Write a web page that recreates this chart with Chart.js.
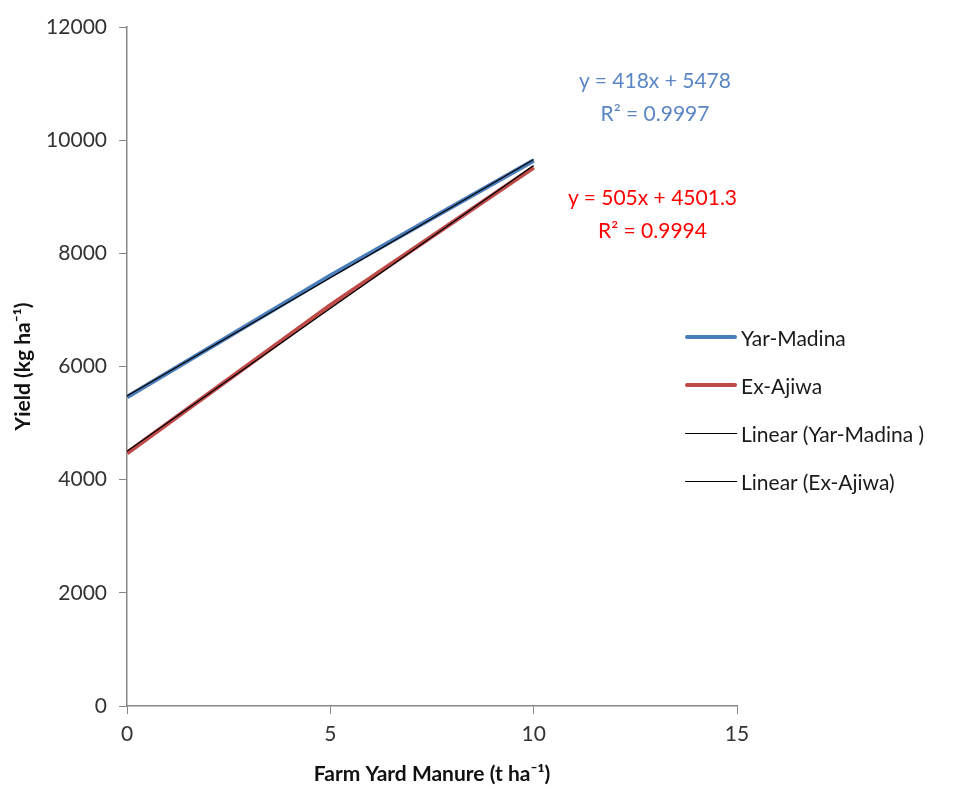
<!DOCTYPE html>
<html lang="en">
<head>
    <meta charset="UTF-8">
    <title>Yield vs Farm Yard Manure</title>
    <style>
        body { margin: 0; background: #fff; font-family: Lato, "Open Sans", sans-serif; }
        .wrap { position: relative; width: 963px; height: 791px; }
        canvas { position: absolute; left: 0; top: 0; }
        .eq { position: absolute; font-size: 21px; text-align: center; line-height: 33px; white-space: nowrap; }
        .legend { position: absolute; left: 685px; top: 313px; font-size: 21px; color: #1a1a1a; }
        .legend div { height: 48px; display: flex; align-items: center; }
        .legend span.sw { display: inline-block; width: 52px; margin-right: 4px; }
    </style>
</head>
<body>
<div class="wrap">
    <canvas id="chart" width="963" height="791"></canvas>
    <div class="eq" style="left:560px; top:63px; width:190px; color:#5a86c4;">y = 418x + 5478<br>R² = 0.9997</div>
    <div class="eq" style="left:550px; top:180px; width:205px; color:#ff0000;">y = 505x + 4501.3<br>R² = 0.9994</div>
    <div class="legend">
        <div><span class="sw" style="border-top:4.5px solid #4a7ebb;border-radius:3px;"></span>Yar-Madina</div>
        <div><span class="sw" style="border-top:4.5px solid #be4b48;border-radius:3px;"></span>Ex-Ajiwa</div>
        <div><span class="sw" style="border-top:1.5px solid #000;"></span>Linear (Yar-Madina )</div>
        <div><span class="sw" style="border-top:1.5px solid #000;"></span>Linear (Ex-Ajiwa)</div>
    </div>
</div>

<script src="https://cdn.jsdelivr.net/npm/chart.js"></script>
<script>
    // Farm yard manure levels (t/ha)
    const manure = [0, 5, 10];
    // Yield (kg/ha)
    const yarMadina = [5460, 7604, 9640];
    const exAjiwa = [4470, 7080, 9520];
    // trendline coefficients as printed on the chart [slope, intercept]
    const trendYar = [418, 5478];
    const trendEx = [505, 4501.3];
    const trendX = [0, 10];

    function pts(xs, ys) {
        return xs.map((x, i) => ({ x: x, y: ys[i] }));
    }
    function trend(c) {
        return trendX.map(x => ({ x: x, y: c[0] * x + c[1] }));
    }

    const axisColor = '#868686';
    const tickFont = { family: 'Lato', size: 21 };
    const titleFont = { family: 'Lato', size: 21, weight: 'bold' };

    new Chart(document.getElementById('chart'), {
        type: 'scatter',
        data: {
            datasets: [
                { label: 'Yar-Madina', data: pts(manure, yarMadina), showLine: true, borderColor: '#4a7ebb', borderWidth: 4.5, pointRadius: 0, order: 2 },
                { label: 'Ex-Ajiwa', data: pts(manure, exAjiwa), showLine: true, borderColor: '#be4b48', borderWidth: 4.5, pointRadius: 0, order: 2 },
                { label: 'Linear (Yar-Madina )', data: trend(trendYar), showLine: true, borderColor: '#000', borderWidth: 1.3, pointRadius: 0, order: 1 },
                { label: 'Linear (Ex-Ajiwa)', data: trend(trendEx), showLine: true, borderColor: '#000', borderWidth: 1.3, pointRadius: 0, order: 1 }
            ]
        },
        options: {
            responsive: false,
            animation: false,
            layout: { padding: { top: 27, right: 226, left: 7, bottom: 0 } },
            plugins: { legend: { display: false }, tooltip: { enabled: false } },
            scales: {
                x: {
                    type: 'linear', min: 0, max: 15,
                    ticks: { stepSize: 5, color: '#333', font: tickFont, padding: 8 },
                    grid: { drawOnChartArea: false, color: axisColor, tickLength: 8 },
                    border: { color: axisColor, width: 1.5 },
                    title: { display: true, text: 'Farm Yard Manure (t ha⁻¹)', color: '#111', font: titleFont },
                    afterFit: function (scale) { scale.height = 85; }
                },
                y: {
                    min: 0, max: 12000,
                    ticks: { stepSize: 2000, color: '#333', font: tickFont, padding: 12, callback: v => String(v) },
                    grid: { drawOnChartArea: false, color: axisColor, tickLength: 8 },
                    border: { color: axisColor, width: 1.5 },
                    title: { display: true, text: 'Yield (kg ha⁻¹)', color: '#111', font: titleFont },
                    afterFit: function (scale) { scale.width = 120; }
                }
            }
        }
    });
</script>
</body>
</html>
